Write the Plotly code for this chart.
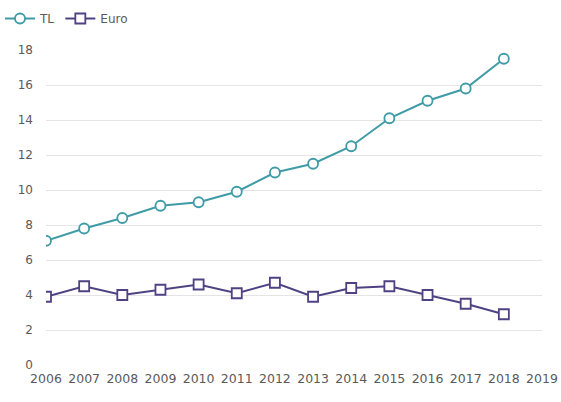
import plotly.graph_objects as go

years = [2006, 2007, 2008, 2009, 2010, 2011, 2012, 2013, 2014, 2015, 2016, 2017, 2018]
tl_values = [7.1, 7.8, 8.4, 9.1, 9.3, 9.9, 11.0, 11.5, 12.5, 14.1, 15.1, 15.8, 17.5]
euro_values = [3.9, 4.5, 4.0, 4.3, 4.6, 4.1, 4.7, 3.9, 4.4, 4.5, 4.0, 3.5, 2.9]
x_ticks = list(range(2006, 2020))
y_ticks = list(range(0, 19, 2))

TEAL = "#3f9ba6"
PURPLE = "#4f4283"

fig = go.Figure()
fig.add_trace(go.Scatter(
    x=years, y=tl_values, name="TL", mode="lines+markers",
    line=dict(color=TEAL, width=2),
    marker=dict(symbol="circle", size=10, color="white",
                line=dict(color=TEAL, width=1.8)),
))
fig.add_trace(go.Scatter(
    x=years, y=euro_values, name="Euro", mode="lines+markers",
    line=dict(color=PURPLE, width=2),
    marker=dict(symbol="square", size=10, color="white",
                line=dict(color=PURPLE, width=1.8)),
))

fig.update_layout(
    width=561, height=402,
    margin=dict(l=46, r=19, t=50, b=37),
    paper_bgcolor="white", plot_bgcolor="white",
    font=dict(family="DejaVu Sans", size=12, color="#5a5a5a"),
    showlegend=True,
    legend=dict(orientation="h", xref="container", yref="container",
                x=0, y=0.99, xanchor="left", yanchor="top",
                font=dict(size=12, color="#5a5a5a"), itemwidth=30,
                bgcolor="rgba(0,0,0,0)"),
    xaxis=dict(range=[2006, 2019], tickmode="array", tickvals=x_ticks,
               ticktext=[str(v) for v in x_ticks], showgrid=False,
               zeroline=False, showline=False, ticks="", automargin=False,
               tickfont=dict(size=12.5), ticklabelstandoff=4),
    yaxis=dict(range=[0, 18], tickmode="array", tickvals=y_ticks,
               showgrid=True, gridcolor="#e4e4e4", gridwidth=1,
               zeroline=False, showline=False, ticks="", automargin=False,
               ticklabelstandoff=12),
)

fig.write_html("out.html", config={"displayModeBar": False},
               post_script="document.body.style.margin='0';")
